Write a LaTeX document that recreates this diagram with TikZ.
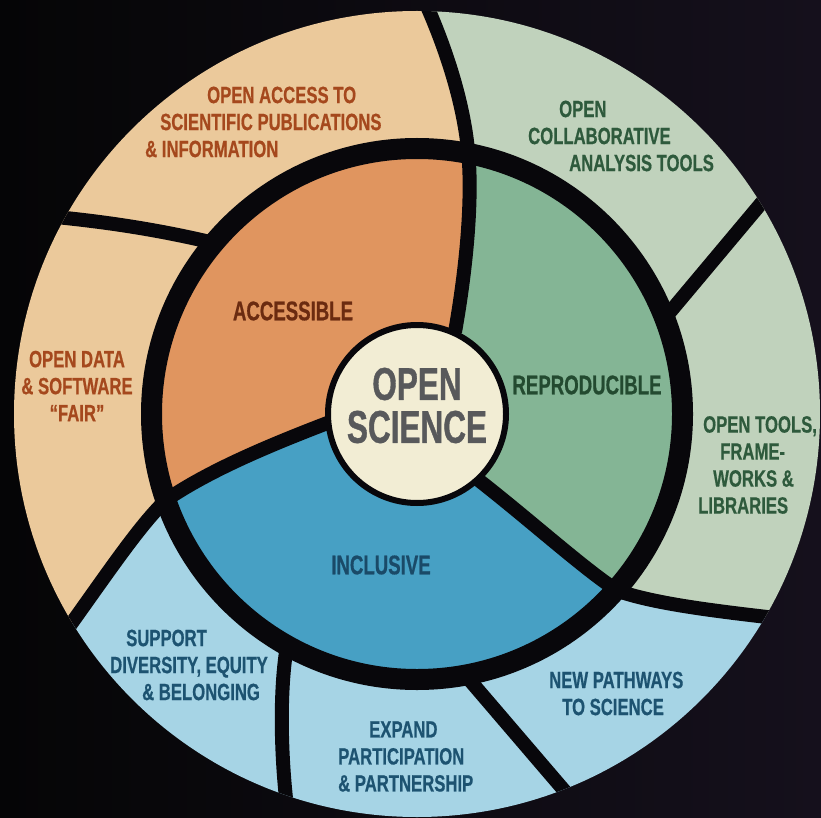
\documentclass[tikz,border=0pt]{standalone}
\usepackage{fontspec}
\setmainfont{Liberation Sans}
\newfontfamily\outerfont{Liberation Sans Bold}[FakeStretch=0.71, FakeBold=0.6]
\newfontfamily\innerfont{Liberation Sans Bold}[FakeStretch=0.69, FakeBold=0.6]
\newfontfamily\corefont{Liberation Sans Bold}[FakeStretch=0.685, FakeBold=0.8]
\definecolor{bgl}{HTML}{050506}
\definecolor{bgr}{HTML}{15101C}
\definecolor{blk}{HTML}{08070B}
\definecolor{lorange}{HTML}{EBC99B}
\definecolor{dorange}{HTML}{E0955F}
\definecolor{lgreen}{HTML}{C0D2BC}
\definecolor{dgreen}{HTML}{84B595}
\definecolor{lblue}{HTML}{A6D4E5}
\definecolor{dblue}{HTML}{47A0C4}
\definecolor{cream}{HTML}{F2EDD4}
\definecolor{coretxt}{HTML}{58595B}
\definecolor{rust}{HTML}{A5481D}
\definecolor{brown}{HTML}{6B2B10}
\definecolor{fgreen}{HTML}{2E5A3C}
\definecolor{igreen}{HTML}{234A30}
\definecolor{fblue}{HTML}{1D5371}
\definecolor{iblue}{HTML}{1A4A68}
\begin{document}
\begin{tikzpicture}[x=1pt,y=-1pt,
  divider/.style={draw=blk, line width=14pt},
  outerlab/.style={font=\outerfont\fontsize{23.5}{27}\selectfont, inner sep=0pt, align=left, anchor=west},
  innerlab/.style={font=\innerfont\fontsize{27}{30}\selectfont, inner sep=0pt}]
\useasboundingbox (0,0) rectangle (821,818);
\shade[left color=bgl, right color=bgr] (0,0) rectangle (821,818);
\coordinate (C) at (417,414);
% regions
\path[save path=\regA] (C) -- (330,422) .. controls (270,445) and (210,470) .. (166,500) .. controls (135,530) and (100,585) .. (45,660) -- (-20,660) -- (-20,-5) -- (422,-5) .. controls (445,45) and (463,100) .. (468,150) .. controls (473,200) and (466,270) .. (455,332) -- cycle;
\path[save path=\regR] (C) -- (455,332) .. controls (466,270) and (473,200) .. (468,150) .. controls (463,100) and (445,45) .. (422,-5) -- (840,-5) -- (840,624) -- (830,624) .. controls (720,612) and (660,605) .. (618,591) .. controls (585,570) and (530,520) .. (476,478) -- cycle;
\path[save path=\regI] (C) -- (476,478) .. controls (530,520) and (585,570) .. (618,591) .. controls (660,605) and (720,612) .. (830,624) -- (840,840) -- (-20,840) -- (45,660) .. controls (100,585) and (135,530) .. (166,500) .. controls (210,470) and (270,445) .. (330,422) -- cycle;
% outer ring
\begin{scope}
  \clip (C) circle[radius=403];
  \fill[lorange, use path=\regA];
  \fill[lgreen, use path=\regR];
  \fill[lblue, use path=\regI];
\end{scope}
% inner disc
\begin{scope}
  \clip (C) circle[radius=258];
  \fill[dorange, use path=\regA];
  \fill[dgreen, use path=\regR];
  \fill[dblue, use path=\regI];
\end{scope}
% black band
\draw[draw=blk, line width=21pt] (C) circle[radius=265.5];
% dividers
\begin{scope}
  \clip (C) circle[radius=403];
  \draw[divider] (455,332) .. controls (466,270) and (473,200) .. (468,150) .. controls (463,100) and (445,45) .. (422,-5);
  \draw[divider] (476,478) .. controls (530,520) and (585,570) .. (618,591) .. controls (660,605) and (720,612) .. (830,624);
  \draw[divider] (330,422) .. controls (270,445) and (210,470) .. (166,500) .. controls (135,530) and (100,585) .. (45,660);
  \draw[divider] (665,318) -- (800,157);
  \draw[divider] (467,677) -- (598,830);
  \draw[divider] (286,652) .. controls (279,700) and (281,770) .. (290,830);
  \draw[divider] (210,242) .. controls (150,228) and (90,219) .. (10,213);
\end{scope}
% core
\node[circle, fill=cream, draw=blk, line width=6pt, minimum size=178pt, inner sep=0pt] (core) at (C) {};
\node[font=\corefont\fontsize{46}{43}\selectfont, text=coretxt, align=center, inner sep=0pt] (coretext) at (417,405.5) {OPEN\\SCIENCE};
% inner labels
\node[innerlab, text=brown] (acc) at (293,311) {ACCESSIBLE};
\node[innerlab, text=igreen] (rep) at (587,385) {REPRODUCIBLE};
\node[innerlab, text=iblue] (inc) at (381,565) {INCLUSIVE};
% outer labels
\node[outerlab, text=rust] (oa) at (145,122) {\hspace*{62pt}OPEN ACCESS TO\\\hspace*{15pt}SCIENTIFIC PUBLICATIONS\\\& INFORMATION};
\node[outerlab, text=fgreen] (oc) at (528,136) {\hspace*{31pt}OPEN\\COLLABORATIVE\\\hspace*{41pt}ANALYSIS TOOLS};
\node[outerlab, text=rust, align=center, anchor=center] (od) at (77,386) {OPEN DATA\\\& SOFTWARE\\“FAIR”};
\node[outerlab, text=fgreen] (ot) at (698,465) {\hspace*{5pt}OPEN TOOLS,\\\hspace*{22pt}FRAME-\\\hspace*{15pt}WORKS \&\\LIBRARIES};
\node[outerlab, text=fblue] (sd) at (110,665) {\hspace*{16pt}SUPPORT\\DIVERSITY, EQUITY\\\hspace*{32pt}\& BELONGING};
\node[outerlab, text=fblue] (ep) at (338,756.5) {\hspace*{31pt}EXPAND\\PARTICIPATION\\\& PARTNERSHIP};
\node[outerlab, text=fblue] (np) at (549,693.5) {NEW PATHWAYS\\\hspace*{13pt}TO SCIENCE};
\end{tikzpicture}
\end{document}
